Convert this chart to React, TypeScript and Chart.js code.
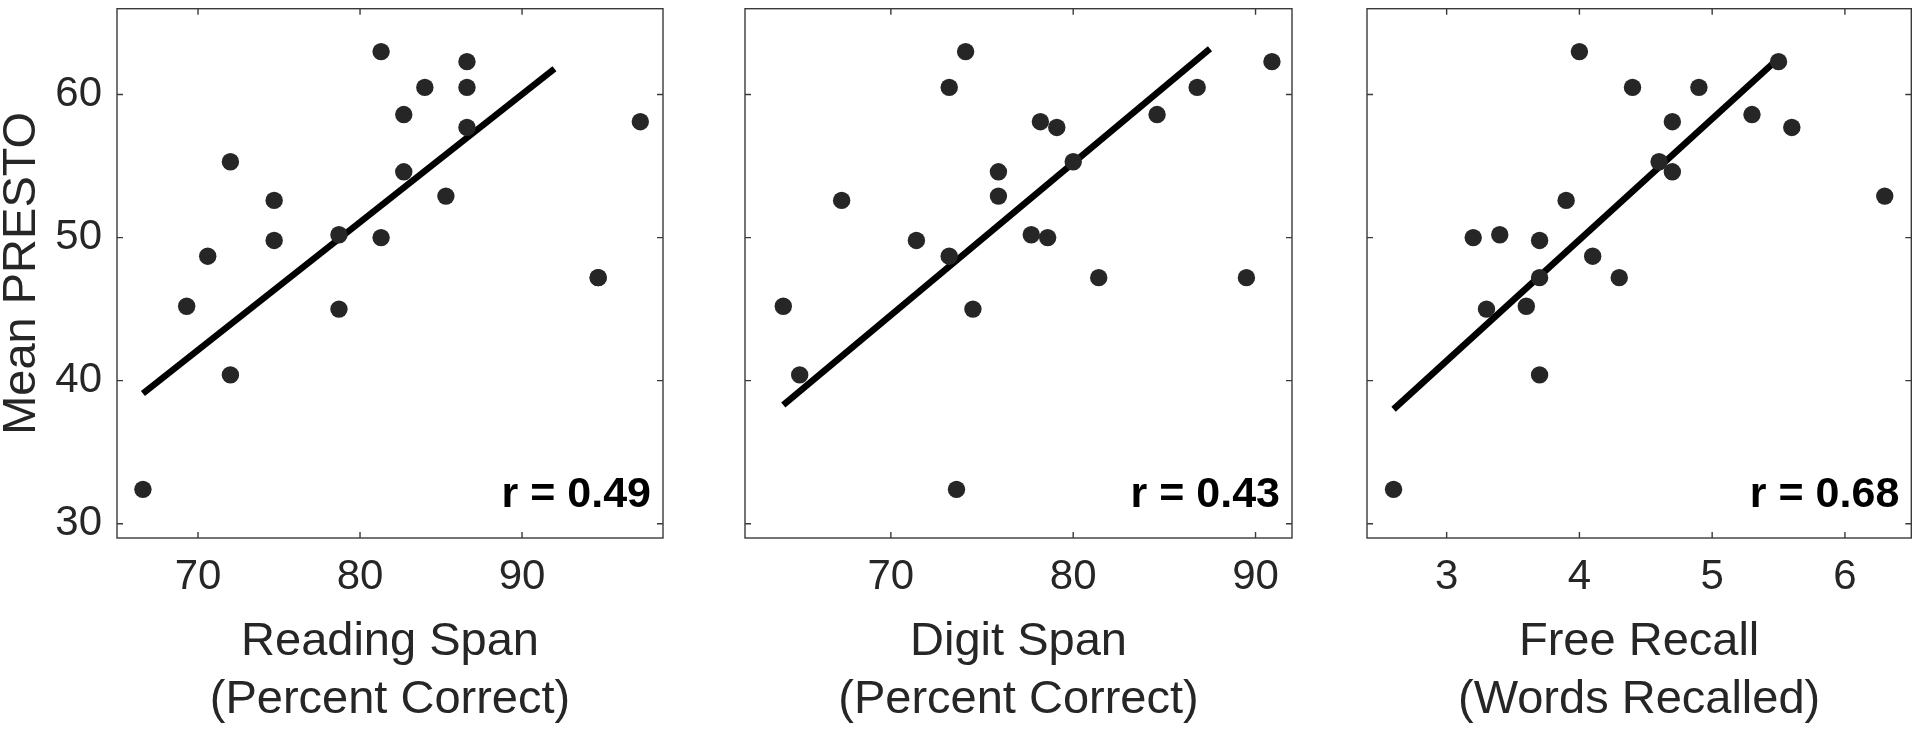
import React, { useEffect, useRef } from 'react';
import { Chart, registerables } from 'chart.js';

Chart.register(...registerables);

// ---- data ----
const yTickValues = [30, 40, 50, 60];
const yRange = [29, 66];

const readingSpanTicks = [70, 80, 90];
const readingSpanRange = [65, 98.7];
const readingSpan = [66.6, 69.3, 70.6, 72.0, 72.0, 74.7, 74.7, 78.7, 78.7, 81.3, 81.3, 82.7, 82.7, 84.0, 85.3, 86.6, 86.6, 86.6, 94.7, 94.7, 97.3];
const prestoReading = [32.4, 45.2, 48.7, 55.3, 40.4, 52.6, 49.8, 50.2, 45.0, 63.0, 50.0, 58.6, 54.6, 60.5, 52.9, 62.3, 60.5, 57.7, 47.2, 47.2, 58.1];
const readingFitX = [66.6, 92.0];
const readingFitY = [39.1, 61.8];

const digitSpanTicks = [70, 80, 90];
const digitSpanRange = [62, 92];
const digitSpan = [64.1, 65.0, 67.3, 71.4, 73.2, 73.2, 73.6, 74.1, 74.5, 75.9, 75.9, 77.7, 78.2, 78.6, 79.1, 80.0, 81.4, 84.6, 86.8, 89.5, 90.9];
const prestoDigit = [45.2, 40.4, 52.6, 49.8, 60.5, 48.7, 32.4, 63.0, 45.0, 54.6, 52.9, 50.2, 58.1, 50.0, 57.7, 55.3, 47.2, 58.6, 60.5, 47.2, 62.3];
const digitFitX = [64.1, 87.5];
const digitFitY = [38.3, 63.2];

const freeRecallTicks = [3, 4, 5, 6];
const freeRecallRange = [2.4, 6.5];
const freeRecall = [2.6, 3.2, 3.3, 3.4, 3.6, 3.7, 3.7, 3.7, 3.9, 4.0, 4.1, 4.3, 4.4, 4.6, 4.7, 4.7, 4.9, 5.3, 5.5, 5.6, 6.3];
const prestoRecall = [32.4, 50.0, 45.0, 50.2, 45.2, 49.8, 47.2, 40.4, 52.6, 63.0, 48.7, 47.2, 60.5, 55.3, 58.1, 54.6, 60.5, 58.6, 62.3, 57.7, 52.9];
const recallFitX = [2.6, 5.46];
const recallFitY = [38.0, 62.2];

const FONT = '"Liberation Sans", Arial, Helvetica, sans-serif';
const TEXT = '#262626';

const framePlugin = {
  id: 'frame',
  afterDraw(chart: any, _args: any, opts: any) {
    const { ctx, chartArea } = chart;
    const { left, right, top, bottom } = chartArea;
    const xs = chart.scales.x;
    const ys = chart.scales.y;
    const tl = 6;
    ctx.save();
    ctx.strokeStyle = '#3a3a3a';
    ctx.lineWidth = 1.4;
    ctx.strokeRect(left, top, right - left, bottom - top);
    ctx.beginPath();
    xs.ticks.forEach((t: any) => {
      const p = xs.getPixelForValue(t.value);
      ctx.moveTo(p, bottom);
      ctx.lineTo(p, bottom - tl);
      ctx.moveTo(p, top);
      ctx.lineTo(p, top + tl);
    });
    ys.ticks.forEach((t: any) => {
      const p = ys.getPixelForValue(t.value);
      ctx.moveTo(left, p);
      ctx.lineTo(left + tl, p);
      ctx.moveTo(right, p);
      ctx.lineTo(right - tl, p);
    });
    ctx.stroke();
    if (opts && opts.label) {
      ctx.fillStyle = '#000';
      ctx.font = `bold 43px ${FONT}`;
      ctx.textAlign = 'right';
      ctx.textBaseline = 'alphabetic';
      ctx.fillText(opts.label, right - 12, bottom - 31);
    }
    ctx.restore();
  },
};

type PanelProps = {
  left: number;
  width: number;
  yWidth: number;
  padRight: number;
  showY: boolean;
  xs: number[];
  ys: number[];
  fitX: number[];
  fitY: number[];
  xTicks: number[];
  xRange: number[];
  title: string[];
  label: string;
};

function Panel(p: PanelProps) {
  const ref = useRef<HTMLCanvasElement>(null);
  useEffect(() => {
    if (!ref.current) return;
    const chart = new Chart(ref.current, {
      type: 'scatter',
      data: {
        datasets: [
          {
            type: 'scatter',
            data: p.xs.map((x, i) => ({ x, y: p.ys[i] })),
            pointRadius: 8.7,
            pointBackgroundColor: '#262626',
            pointBorderWidth: 0,
            order: 0,
          } as any,
          {
            type: 'line',
            data: p.fitX.map((x, i) => ({ x, y: p.fitY[i] })),
            borderColor: '#000',
            borderWidth: 6.5,
            borderCapStyle: 'butt',
            pointRadius: 0,
            showLine: true,
            order: 1,
          } as any,
        ],
      },
      options: {
        animation: false,
        responsive: false,
        devicePixelRatio: 1,
        layout: { padding: { top: 5, right: p.padRight, left: 0, bottom: 0 } },
        plugins: {
          legend: { display: false },
          tooltip: { enabled: false },
          frame: { label: p.label },
        } as any,
        scales: {
          x: {
            type: 'linear',
            position: 'bottom',
            min: p.xRange[0],
            max: p.xRange[1],
            grid: { display: false, drawTicks: false, tickLength: 0 },
            border: { display: false },
            afterBuildTicks: (s: any) => {
              s.ticks = p.xTicks.map((v) => ({ value: v }));
            },
            afterFit: (s: any) => {
              s.height = 191;
              s.paddingLeft = 0;
              s.paddingRight = 0;
            },
            ticks: {
              padding: 14,
              color: TEXT,
              font: { family: FONT, size: 42 },
              maxRotation: 0,
              autoSkip: false,
            },
            title: {
              display: true,
              text: p.title,
              color: TEXT,
              font: { family: FONT, size: 47, lineHeight: 58 / 47 },
              padding: { top: 0, bottom: 0 },
            },
          },
          y: {
            type: 'linear',
            position: 'left',
            min: yRange[0],
            max: yRange[1],
            grid: { display: false, drawTicks: false, tickLength: 0 },
            border: { display: false },
            afterBuildTicks: (s: any) => {
              s.ticks = yTickValues.map((v) => ({ value: v }));
            },
            afterFit: (s: any) => {
              s.width = p.yWidth;
              s.paddingTop = 0;
              s.paddingBottom = 0;
            },
            ticks: {
              display: p.showY,
              padding: 15,
              color: TEXT,
              font: { family: FONT, size: 42 },
              autoSkip: false,
            },
            title: {
              display: p.showY,
              text: 'Mean PRESTO',
              color: TEXT,
              font: { family: FONT, size: 47, lineHeight: 44 / 47 },
              padding: { top: 0, bottom: 0 },
            },
          },
        },
      },
      plugins: [framePlugin],
    });
    return () => chart.destroy();
  }, []);
  return (
    <canvas
      ref={ref}
      width={p.width}
      height={729}
      style={{ position: 'absolute', left: p.left, top: 0, width: p.width, height: 729 }}
    />
  );
}

export default function App() {
  return (
    <div style={{ position: 'fixed', left: 0, top: 0, width: 1920, height: 729, background: '#fff', overflow: 'hidden' }}>
      <Panel
        left={0}
        width={700}
        yWidth={117}
        padRight={37}
        showY={true}
        xs={readingSpan}
        ys={prestoReading}
        fitX={readingFitX}
        fitY={readingFitY}
        xTicks={readingSpanTicks}
        xRange={readingSpanRange}
        title={['Reading Span', '(Percent Correct)']}
        label="r = 0.49"
      />
      <Panel
        left={700}
        width={630}
        yWidth={45}
        padRight={38}
        showY={false}
        xs={digitSpan}
        ys={prestoDigit}
        fitX={digitFitX}
        fitY={digitFitY}
        xTicks={digitSpanTicks}
        xRange={digitSpanRange}
        title={['Digit Span', '(Percent Correct)']}
        label="r = 0.43"
      />
      <Panel
        left={1330}
        width={590}
        yWidth={37}
        padRight={6}
        showY={false}
        xs={freeRecall}
        ys={prestoRecall}
        fitX={recallFitX}
        fitY={recallFitY}
        xTicks={freeRecallTicks}
        xRange={freeRecallRange}
        title={['Free Recall', '(Words Recalled)']}
        label="r = 0.68"
      />
    </div>
  );
}
